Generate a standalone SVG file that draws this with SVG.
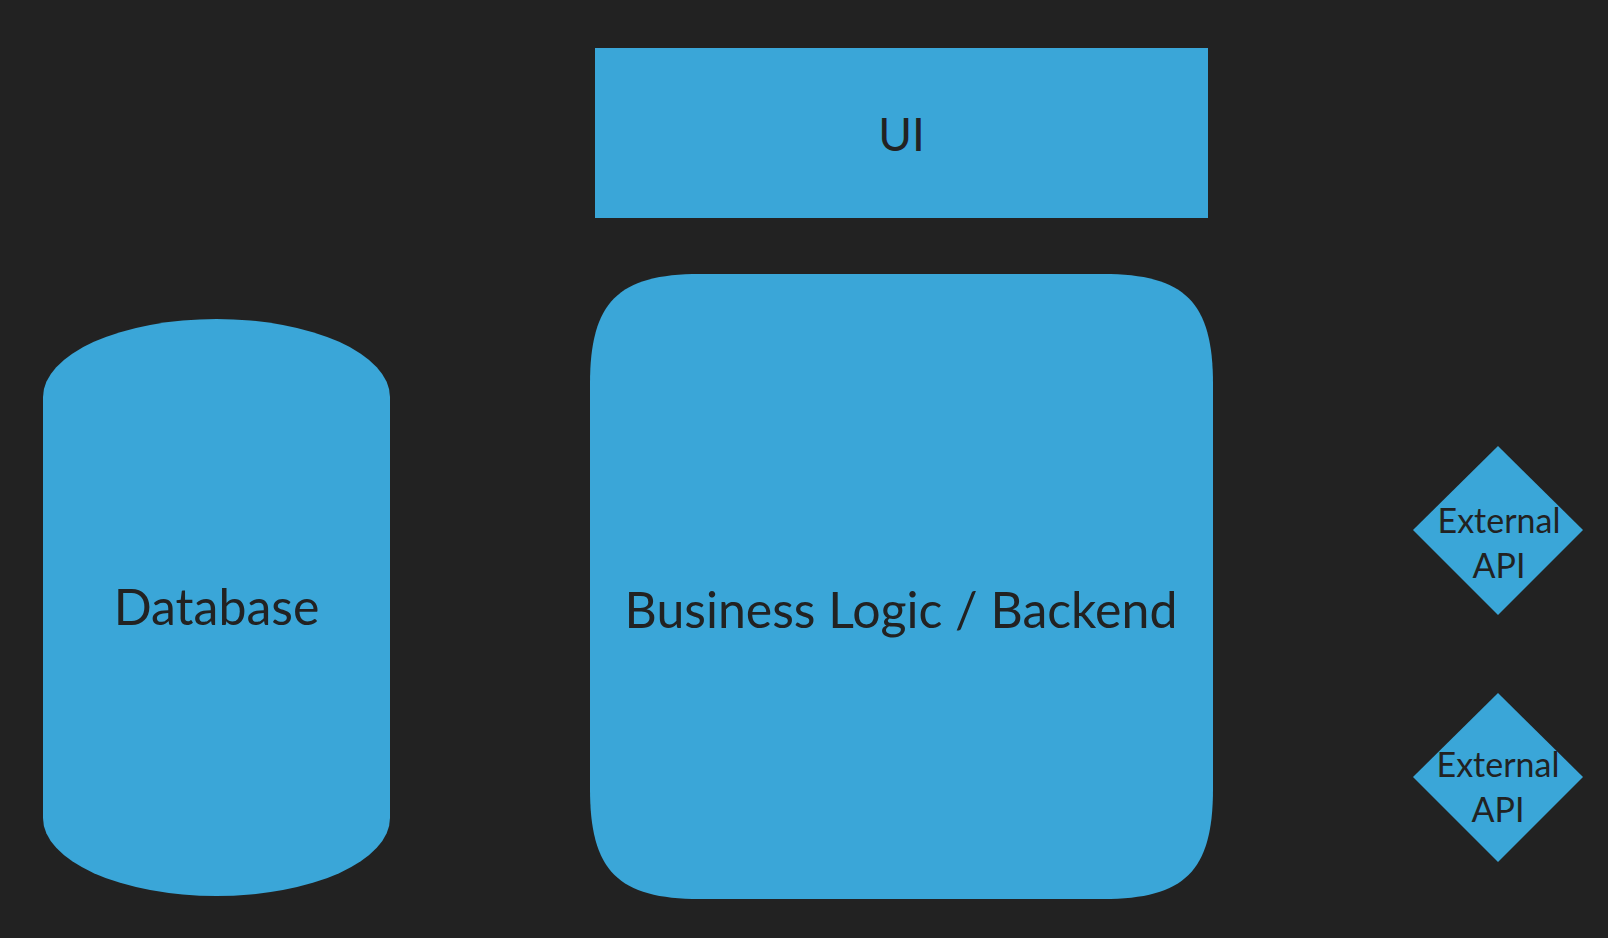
<svg xmlns="http://www.w3.org/2000/svg" width="1608" height="938" viewBox="0 0 1608 938">
<style>
.shape{fill:#3aa6d8;}
.lbl{font-family:Lato,"Noto Sans",sans-serif;fill:#222222;text-anchor:middle;}
</style>
<rect x="0" y="0" width="1608" height="938" fill="#222222"/>
<g id="connectors"></g>
<g id="ui">
<rect class="shape" x="595" y="48" width="613" height="170"/>
<text class="lbl" x="901.5" y="151" font-size="46">UI</text>
</g>
<g id="backend">
<path class="shape" d="M700,274 H1103 C1185,274 1213,302 1213,384 V789 C1213,871 1185,899 1103,899 H700 C618,899 590,871 590,789 V384 C590,302 618,274 700,274 Z"/>
<text class="lbl" x="901" y="628" font-size="50">Business Logic / Backend</text>
</g>
<g id="database">
<path class="shape" d="M43,397 A173.5,78 0 0 1 390,397 V818 A173.5,78 0 0 1 43,818 Z"/>
<text class="lbl" x="216.5" y="625" font-size="50">Database</text>
</g>
<g id="api1">
<polygon class="shape" points="1498,446 1583,530 1498,615 1413,530"/>
<text class="lbl" x="1499" y="533" font-size="34">External</text>
<text class="lbl" x="1499" y="578" font-size="34">API</text>
</g>
<g id="api2">
<polygon class="shape" points="1498,693 1583,777 1498,862 1413,777"/>
<text class="lbl" x="1498" y="777" font-size="34">External</text>
<text class="lbl" x="1498" y="822" font-size="34">API</text>
</g>
</svg>
